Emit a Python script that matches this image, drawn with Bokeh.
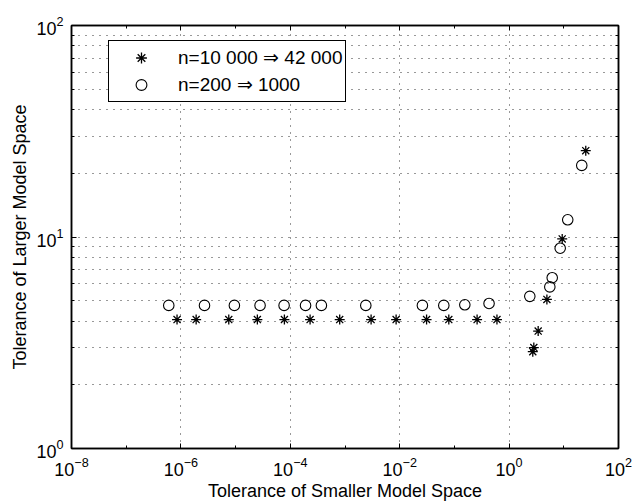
from bokeh.plotting import figure
from bokeh.models import Range1d, FixedTicker, LogAxis, Legend, LegendItem
from bokeh.embed import file_html
from bokeh.resources import INLINE

# Series: n = 10 000 => 42 000 (asterisks)
big_x = [8.5e-7, 1.9e-6, 7.5e-6, 2.5e-5, 7.8e-5, 2.3e-4, 8.0e-4, 3.0e-3,
         8.6e-3, 0.031, 0.079, 0.26, 0.60, 2.71, 2.83, 3.40, 4.91, 9.35, 25.2]
big_y = [4.07, 4.07, 4.07, 4.07, 4.07, 4.07, 4.07, 4.07,
         4.07, 4.07, 4.07, 4.07, 4.07, 2.87, 3.00, 3.59, 5.07, 9.79, 25.6]

# Series: n = 200 => 1000 (open circles)
small_x = [6.0e-7, 2.7e-6, 9.5e-6, 2.8e-5, 7.7e-5, 1.9e-4, 3.7e-4, 2.4e-3,
           0.026, 0.064, 0.155, 0.43, 2.39, 5.55, 6.14, 8.59, 11.8, 21.3]
small_y = [4.75, 4.75, 4.75, 4.75, 4.75, 4.75, 4.75, 4.75,
           4.75, 4.75, 4.78, 4.85, 5.24, 5.81, 6.42, 8.85, 12.06, 21.8]

legend_labels = ["n=10 000 \u21d2 42 000", "n=200 \u21d2 1000"]
x_title = "Tolerance of Smaller Model Space"
y_title = "Tolerance of Larger Model Space"

x_ticks = [1e-8, 1e-6, 1e-4, 1e-2, 1e0, 1e2]
x_minor = [1e-7, 1e-5, 1e-3, 1e-1, 1e1]
y_ticks = [1, 10, 100]
y_minor = [2, 3, 4, 5, 6, 7, 8, 9, 20, 30, 40, 50, 60, 70, 80, 90]

FONT = "Liberation Sans"

p = figure(width=632, height=503, x_axis_type="log", y_axis_type="log",
           x_range=Range1d(1e-8, 1e2), y_range=Range1d(1, 100),
           output_backend="svg", toolbar_location=None,
           min_border_left=71, min_border_right=14,
           min_border_top=25, min_border_bottom=52)
p.background_fill_color = "white"
p.border_fill_color = "white"
p.outline_line_color = "black"
p.outline_line_width = 1.5

bottom_axis = p.below[0]
left_axis = p.left[0]
top_axis = LogAxis()
right_axis = LogAxis()
p.add_layout(top_axis, "above")
p.add_layout(right_axis, "right")

for ax in [bottom_axis, top_axis]:
    ax.ticker = FixedTicker(ticks=x_ticks, minor_ticks=x_minor)
for ax in [left_axis, right_axis]:
    ax.ticker = FixedTicker(ticks=y_ticks, minor_ticks=y_minor)

# box axes on top and right carry ticks only
top_axis.major_label_overrides = {t: " " for t in x_ticks}
right_axis.major_label_overrides = {t: " " for t in y_ticks}
for ax in [top_axis, right_axis]:
    ax.major_label_text_font_size = "2px"
    ax.major_label_standoff = 0

for ax in [bottom_axis, top_axis, left_axis, right_axis]:
    ax.axis_line_color = "black"
    ax.axis_line_width = 1.5
    ax.major_tick_in = 5
    ax.major_tick_out = 0
    ax.minor_tick_in = 3
    ax.minor_tick_out = 0
    ax.major_tick_line_color = "black"
    ax.minor_tick_line_color = "black"

for ax in [bottom_axis, left_axis]:
    ax.major_label_text_font = FONT
    ax.major_label_text_font_size = "18px"
    ax.major_label_text_color = "black"
    ax.axis_label_text_font = FONT
    ax.axis_label_text_font_size = "18px"
    ax.axis_label_text_font_style = "normal"
    ax.axis_label_text_color = "black"

bottom_axis.axis_label = x_title
bottom_axis.major_label_standoff = 8
bottom_axis.axis_label_standoff = 2
left_axis.axis_label = y_title
left_axis.major_label_standoff = 8
left_axis.axis_label_standoff = 3

# dotted grid: decades on x, every minor step on y
p.xgrid.ticker = FixedTicker(ticks=x_ticks)
p.ygrid.ticker = FixedTicker(ticks=y_ticks + y_minor)
for g in [p.xgrid, p.ygrid]:
    g.grid_line_color = "#333333"
    g.grid_line_dash = "1 6"
    g.grid_line_width = 1

r_big = p.scatter(big_x, big_y, marker="asterisk", size=10,
                  line_color="black", line_width=1.3)
r_small = p.scatter(small_x, small_y, marker="circle", size=10.5,
                    fill_color=None, line_color="black", line_width=1.1)

legend = Legend(items=[LegendItem(label=legend_labels[0], renderers=[r_big]),
                       LegendItem(label=legend_labels[1], renderers=[r_small])],
                location=(37, 346))
legend.label_text_font = FONT
legend.label_text_font_size = "19px"
legend.label_text_color = "black"
legend.padding = 3
legend.spacing = 0
legend.margin = 0
legend.glyph_width = 58
legend.glyph_height = 27
legend.label_height = 27
legend.label_standoff = 8
legend.border_line_color = "black"
legend.border_line_alpha = 1.0
legend.border_line_width = 1.5
legend.background_fill_color = "white"
legend.background_fill_alpha = 1.0
p.add_layout(legend, "center")

with open("out.html", "w") as f:
    f.write(file_html(p, INLINE))
